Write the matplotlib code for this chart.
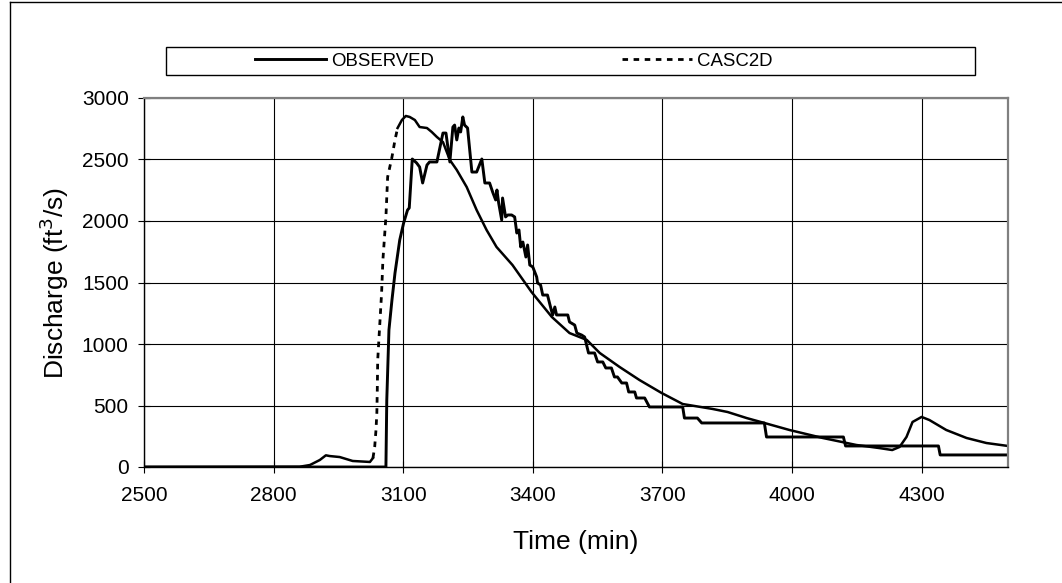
import matplotlib
matplotlib.use('Agg')
import matplotlib.pyplot as plt
from matplotlib.patches import Rectangle
from matplotlib.lines import Line2D

plt.rcParams['font.family'] = ['Liberation Sans', 'DejaVu Sans']

# observed hydrograph (min, ft3/s)
obs_t = [2500, 3060, 3062, 3067, 3074, 3081, 3092, 3101, 3110, 3114, 3121, 3131, 3138, 3145,
         3155, 3161, 3178, 3192, 3199, 3208, 3215, 3219, 3224, 3229, 3233, 3238, 3242, 3249,
         3259, 3270, 3282, 3289, 3300, 3307, 3314, 3317, 3321, 3328, 3330, 3337, 3342, 3351,
         3358, 3363, 3368, 3372, 3377, 3384, 3388, 3393, 3400, 3409, 3411, 3418, 3423, 3434,
         3441, 3446, 3451, 3455, 3481, 3485, 3497, 3502, 3513, 3520, 3529, 3543, 3550, 3562,
         3569, 3582, 3589, 3596, 3606, 3617, 3622, 3636, 3640, 3659, 3670, 3747, 3751, 3781,
         3791, 3936, 3941, 4119, 4124, 4339, 4343, 4500]
obs_q = [0, 0, 545, 1114, 1358, 1577, 1846, 1984, 2089, 2106, 2504, 2472, 2439, 2309,
         2455, 2480, 2480, 2715, 2715, 2480, 2764, 2780, 2659, 2756, 2724, 2846, 2780, 2756,
         2398, 2398, 2504, 2309, 2309, 2236, 2171, 2252, 2146, 2008, 2187, 2033, 2049, 2049,
         2033, 1902, 1927, 1789, 1829, 1707, 1805, 1642, 1626, 1545, 1496, 1480, 1398, 1398,
         1301, 1236, 1301, 1236, 1236, 1179, 1154, 1089, 1073, 1057, 927, 927, 854, 854,
         805, 805, 732, 732, 683, 683, 610, 610, 561, 561, 488, 488, 398, 398,
         358, 358, 244, 244, 171, 171, 98, 98]

# CASC2D simulated hydrograph
sim_t = [2500, 2860, 2884, 2907, 2921, 2930, 2953, 2983, 3023, 3030, 3034, 3037, 3039, 3040,
         3041, 3050, 3053, 3060, 3064, 3074, 3081, 3087, 3097, 3106, 3115, 3127, 3138, 3155,
         3166, 3178, 3192, 3208, 3224, 3247, 3270, 3293, 3316, 3353, 3397, 3444, 3485, 3525,
         3555, 3601, 3647, 3698, 3747, 3816, 3851, 3895, 3936, 3994, 4071, 4149, 4202, 4232,
         4249, 4265, 4279, 4300, 4318, 4357, 4404, 4450, 4500]
sim_q = [0, 2, 16, 57, 95, 89, 81, 49, 41, 73, 163, 301, 439, 626,
         870, 1415, 1683, 2033, 2358, 2520, 2659, 2756, 2821, 2854, 2846, 2821, 2764, 2756,
         2724, 2683, 2642, 2496, 2415, 2276, 2089, 1927, 1789, 1642, 1423, 1220, 1089, 1033,
         927, 813, 707, 602, 512, 472, 447, 398, 358, 301, 236, 179, 154, 138,
         163, 244, 366, 407, 382, 301, 236, 195, 171]

xticks = [2500, 2800, 3100, 3400, 3700, 4000, 4300]
yticks = [0, 500, 1000, 1500, 2000, 2500, 3000]

fig = plt.figure(figsize=(10.62, 5.83), dpi=100)
ax = fig.add_axes([144 / 1062, 1 - 467 / 583, (1008 - 144) / 1062, (467 - 98) / 583])

# rising limb of the simulation drawn dashed, the rest looks solid in the original
i0 = sim_t.index(3030)
i1 = sim_t.index(3087)
ax.plot(sim_t[:i0 + 1], sim_q[:i0 + 1], color='black', lw=1.8)
ax.plot(sim_t[i1:], sim_q[i1:], color='black', lw=1.8)
ax.plot(sim_t[i0:i1 + 1], sim_q[i0:i1 + 1], color='black', lw=2.0,
        dashes=(2.0, 2.0), label='CASC2D')
ax.plot(obs_t, obs_q, color='black', lw=2.1, label='OBSERVED')

ax.set_xlim(2500, 4500)
ax.set_ylim(0, 3000)
ax.set_xticks(xticks)
ax.set_yticks(yticks)
ax.grid(True, color='black', lw=0.8)
ax.tick_params(direction='inout', length=8, width=0.8, labelsize=15)
ax.tick_params(axis='x', pad=10)
ax.tick_params(axis='y', pad=7)
for s in ['left', 'bottom']:
    ax.spines[s].set_color('black')
    ax.spines[s].set_linewidth(1.0)
for s in ['top', 'right']:
    ax.spines[s].set_color('#808080')
    ax.spines[s].set_linewidth(1.6)

ax.set_xlabel('Time (min)', fontsize=19, labelpad=18)
ax.set_ylabel('Discharge (ft$^3$/s)', fontsize=19, labelpad=8)

# legend box across the top
fig.add_artist(Rectangle((166 / 1062, 1 - 75 / 583), (975 - 166) / 1062, 28 / 583,
                         transform=fig.transFigure, fill=False, ec='black', lw=1.0))
h_obs = Line2D([], [], color='black', lw=2.1)
h_sim = Line2D([], [], color='black', lw=2.0, dashes=(2.0, 2.0))
fig.legend([h_obs, h_sim], ['OBSERVED', 'CASC2D'], ncol=2, frameon=False,
           loc='center', bbox_to_anchor=(514 / 1062, 1 - 61 / 583), fontsize=13.4,
           handlelength=3.8, handletextpad=0.27, columnspacing=10.1, borderpad=0)

# outer chart border (left and top visible)
fig.add_artist(Line2D([10 / 1062, 10 / 1062], [0, 1 - 2 / 583], transform=fig.transFigure,
                      color='black', lw=1.0))
fig.add_artist(Line2D([10 / 1062, 1], [1 - 2 / 583, 1 - 2 / 583], transform=fig.transFigure,
                      color='black', lw=1.0))

fig.savefig('out.png', dpi=100)
